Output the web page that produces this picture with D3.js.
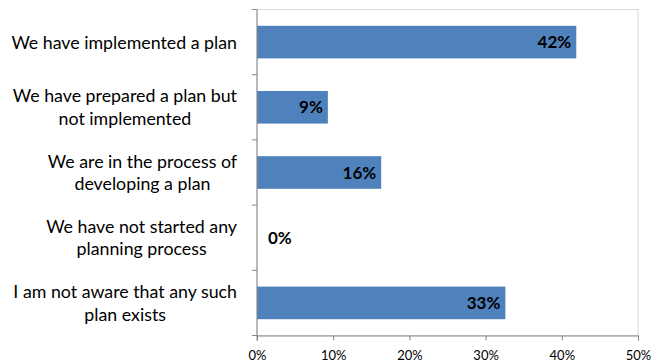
<!DOCTYPE html>
<html>
<head>
<meta charset="utf-8">
<script src="https://cdn.jsdelivr.net/npm/d3@7"></script>
<style>
  body { margin: 0; background: #fff; }
  text { font-family: Lato, "Open Sans", sans-serif; }
</style>
</head>
<body>
<div id="chart"></div>
<script>
// data
var categories = [
  ["We have implemented a plan"],
  ["We have prepared a plan but", "not implemented"],
  ["We are in the process of", "developing a plan"],
  ["We have not started any", "planning process"],
  ["I am not aware that any such", "plan exists"]
]
var values = [41.9, 9.3, 16.3, 0, 32.6]
var ticks = [0, 10, 20, 30, 40, 50]

var W = 664, H = 364
var margin = {top: 9.5, right: 26, bottom: 28.5, left: 257}
var width = W - margin.left - margin.right,
    height = H - margin.top - margin.bottom

var svg = d3.select("#chart").append("svg")
  .attr("width", W)
  .attr("height", H)

var g = svg.append("g")
  .attr("transform", "translate(" + margin.left + "," + margin.top + ")")

var x = d3.scaleLinear().domain([0, 50]).range([0, width])
var y = d3.scaleBand().domain(d3.range(values.length)).range([0, height])
  .paddingInner(0.5).paddingOuter(0.25)

// plot area border (light)
g.append("rect")
  .attr("x", 0).attr("y", 0)
  .attr("width", width).attr("height", height)
  .attr("fill", "none").attr("stroke", "#d9d9d9")

// bars
g.selectAll(".bar")
  .data(values)
  .enter().append("rect")
  .attr("class", "bar")
  .attr("x", x(0))
  .attr("y", function(d, i) { return y(i) })
  .attr("width", function(d) { return x(d) - x(0) })
  .attr("height", y.bandwidth())
  .attr("fill", "#4f81bd")

// value labels
g.selectAll(".lbl")
  .data(values)
  .enter().append("text")
  .attr("class", "lbl")
  .attr("x", function(d) { return d > 2 ? x(d) - 5 : x(d) + 11 })
  .attr("y", function(d, i) { return y(i) + y.bandwidth() / 2 })
  .attr("dy", "0.36em")
  .attr("text-anchor", function(d) { return d > 2 ? "end" : "start" })
  .attr("font-size", 17)
  .attr("font-weight", "bold")
  .attr("fill", "#000")
  .text(function(d) { return Math.round(d) + "%" })

// x axis
var xAxis = g.append("g")
  .attr("transform", "translate(0," + height + ")")
  .call(d3.axisBottom(x).tickValues(ticks).tickSize(5).tickFormat(function(d) { return d + "%" }))
xAxis.select(".domain").attr("stroke", "#868686")
xAxis.selectAll(".tick line").attr("stroke", "#868686")
xAxis.selectAll(".tick text")
  .attr("font-family", "Lato, sans-serif")
  .attr("font-size", 13)
  .attr("fill", "#000")
  .attr("y", 24.5)
  .attr("dy", 0)

// y axis line and ticks at band boundaries
var step = y.step()
g.append("line")
  .attr("x1", 0).attr("x2", 0).attr("y1", 0).attr("y2", height + 5)
  .attr("stroke", "#868686")
g.selectAll(".ytick")
  .data(d3.range(values.length + 1))
  .enter().append("line")
  .attr("x1", -5).attr("x2", 0)
  .attr("y1", function(i) { return i * step })
  .attr("y2", function(i) { return i * step })
  .attr("stroke", "#868686")

// category labels, centered block, right edge near the axis
var rightEdge = -20
var lineH = 22.5
categories.forEach(function(lines, i) {
  var cy = y(i) + y.bandwidth() / 2
  var t = g.append("text")
    .attr("font-size", 17.8)
    .attr("fill", "#000")
    .attr("text-anchor", "middle")
  lines.forEach(function(s, j) {
    t.append("tspan")
      .attr("y", cy + (j - (lines.length - 1) / 2) * lineH)
      .attr("dy", "0.36em")
      .text(s)
  })
  var maxW = 0
  t.selectAll("tspan").each(function() { maxW = Math.max(maxW, this.getComputedTextLength()) })
  t.selectAll("tspan").attr("x", rightEdge - maxW / 2)
})
</script>
</body>
</html>
